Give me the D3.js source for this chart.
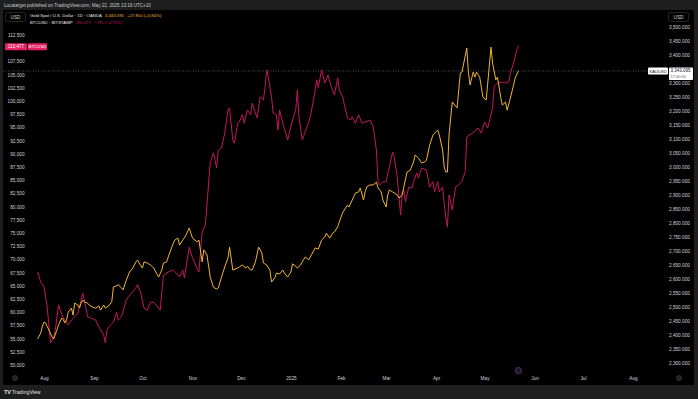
<!DOCTYPE html>
<html>
<head>
<meta charset="utf-8">
<script src="https://cdn.jsdelivr.net/npm/d3@7"></script>
<style>
  body { margin: 0; background: #1e1e1e; }
  svg { display: block; font-family: "Liberation Sans", Arial, sans-serif; }
  .axis text { fill: #d1d4dc; font-size: 4.7px; }
  .axis path { display: none; }
</style>
</head>
<body>
<div id="chart"></div>
<script>
// BTCUSD (Bitstamp) daily closes, one line per month
const btcDates = [
  "2024-07-28","2024-07-30",
  "2024-08-01","2024-08-03","2024-08-05","2024-08-07","2024-08-08","2024-08-10","2024-08-11","2024-08-13","2024-08-16","2024-08-18","2024-08-20","2024-08-22","2024-08-25","2024-08-26","2024-08-28","2024-08-30",
  "2024-09-02","2024-09-04","2024-09-07","2024-09-08","2024-09-09","2024-09-10","2024-09-13","2024-09-15","2024-09-16","2024-09-18","2024-09-21","2024-09-24","2024-09-26","2024-09-28","2024-09-30",
  "2024-10-02","2024-10-04","2024-10-06","2024-10-08","2024-10-11","2024-10-12","2024-10-14","2024-10-17","2024-10-20","2024-10-22","2024-10-24","2024-10-26","2024-10-27","2024-10-30",
  "2024-11-01","2024-11-03","2024-11-05","2024-11-07","2024-11-09","2024-11-12","2024-11-14","2024-11-16","2024-11-17","2024-11-19","2024-11-21","2024-11-23","2024-11-24","2024-11-26","2024-11-27","2024-11-29","2024-11-30",
  "2024-12-02","2024-12-03","2024-12-05","2024-12-07","2024-12-08","2024-12-11","2024-12-13","2024-12-15","2024-12-16","2024-12-17","2024-12-18","2024-12-20","2024-12-21","2024-12-23","2024-12-24","2024-12-25","2024-12-27","2024-12-30",
  "2025-01-02","2025-01-04","2025-01-05","2025-01-06","2025-01-08","2025-01-11","2025-01-13","2025-01-15","2025-01-17","2025-01-18","2025-01-20","2025-01-22","2025-01-24","2025-01-26","2025-01-28","2025-01-30","2025-01-31",
  "2025-02-02","2025-02-05","2025-02-07","2025-02-08","2025-02-10","2025-02-12","2025-02-14","2025-02-16","2025-02-19","2025-02-21","2025-02-23","2025-02-24","2025-02-25","2025-02-27",
  "2025-03-01","2025-03-03","2025-03-05","2025-03-06","2025-03-08","2025-03-09","2025-03-10","2025-03-11","2025-03-12","2025-03-13","2025-03-15","2025-03-17","2025-03-18","2025-03-20","2025-03-21","2025-03-23","2025-03-26","2025-03-28","2025-03-30","2025-03-31",
  "2025-04-02","2025-04-03","2025-04-05","2025-04-06","2025-04-07","2025-04-08","2025-04-09","2025-04-11","2025-04-13","2025-04-15","2025-04-17","2025-04-19","2025-04-20","2025-04-22","2025-04-25","2025-04-27","2025-04-29",
  "2025-05-01","2025-05-03","2025-05-04","2025-05-06","2025-05-07","2025-05-09","2025-05-12","2025-05-14","2025-05-16","2025-05-17","2025-05-19","2025-05-21","2025-05-22"
];
const btcClose = [
  67600,65700,
  64800,61000,54200,55300,56600,61400,60400,58900,57600,58500,59100,59800,63600,62300,59100,58900,
  58500,57200,55700,54200,56600,57200,58100,60000,58500,59100,62300,63600,64200,65200,63600,
  60800,60400,61900,61900,60800,60400,67000,67600,68000,67400,66700,68000,66500,72300,
  70300,68900,67600,75200,76500,88300,90200,87300,90700,91100,93900,98300,98700,92600,92000,95800,96000,
  97400,95800,98300,97400,99600,96800,100800,100200,102700,105900,104500,100800,97700,97400,94500,98300,95800,92600,
  96400,98300,102100,97000,92600,95100,97000,100200,104000,102500,105900,103400,104900,102700,101100,104400,102100,
  100800,96800,96400,97000,95800,97400,95800,96000,96400,95100,90700,84700,84100,84700,
  84700,87500,90300,89400,85400,81800,78400,82800,83100,80900,83700,83500,84700,86400,85400,87300,86900,83700,84700,82800,
  84700,82800,83700,80700,78000,76100,82200,79400,83700,84100,84800,86600,93200,93600,94300,94900,93900,
  96000,94900,96200,98700,102800,103400,103600,103400,103600,105300,107200,109700,110477
];

// XAUUSD (OANDA) daily closes, one line per month
const goldDates = [
  "2024-07-28","2024-07-30","2024-07-31",
  "2024-08-01","2024-08-02","2024-08-04","2024-08-06","2024-08-07","2024-08-09","2024-08-10","2024-08-12","2024-08-13","2024-08-14","2024-08-15","2024-08-16","2024-08-18","2024-08-19","2024-08-20","2024-08-22","2024-08-23","2024-08-24","2024-08-25","2024-08-26","2024-08-28","2024-08-29","2024-08-31",
  "2024-09-02","2024-09-04","2024-09-05","2024-09-07","2024-09-08","2024-09-10","2024-09-12","2024-09-13","2024-09-16","2024-09-18","2024-09-19","2024-09-21","2024-09-23","2024-09-25","2024-09-27","2024-09-28","2024-09-29",
  "2024-10-01","2024-10-02","2024-10-04","2024-10-06","2024-10-08","2024-10-11","2024-10-13","2024-10-14","2024-10-16","2024-10-17","2024-10-19","2024-10-21","2024-10-23","2024-10-24","2024-10-26","2024-10-28","2024-10-30",
  "2024-11-01","2024-11-04","2024-11-05","2024-11-07","2024-11-08","2024-11-10","2024-11-12","2024-11-14","2024-11-16","2024-11-17","2024-11-19","2024-11-21","2024-11-23","2024-11-24","2024-11-26","2024-11-29","2024-11-30",
  "2024-12-02","2024-12-04","2024-12-05","2024-12-07","2024-12-08","2024-12-10","2024-12-12","2024-12-14","2024-12-15","2024-12-17","2024-12-19","2024-12-20","2024-12-22","2024-12-23","2024-12-25","2024-12-27","2024-12-28","2024-12-30",
  "2025-01-01","2025-01-02","2025-01-04","2025-01-05","2025-01-07","2025-01-08","2025-01-10","2025-01-12","2025-01-14","2025-01-16","2025-01-18","2025-01-20","2025-01-22","2025-01-23","2025-01-25","2025-01-27","2025-01-28","2025-01-30","2025-01-31",
  "2025-02-02","2025-02-05","2025-02-06","2025-02-08","2025-02-10","2025-02-12","2025-02-13","2025-02-15","2025-02-16","2025-02-17","2025-02-19","2025-02-21","2025-02-23","2025-02-24","2025-02-26","2025-02-27",
  "2025-03-01","2025-03-02","2025-03-03","2025-03-05","2025-03-08","2025-03-09","2025-03-11","2025-03-12","2025-03-14","2025-03-16","2025-03-18","2025-03-19","2025-03-21","2025-03-23","2025-03-25","2025-03-26","2025-03-28","2025-03-30",
  "2025-04-02","2025-04-03","2025-04-05","2025-04-06","2025-04-07","2025-04-08","2025-04-09","2025-04-11","2025-04-14","2025-04-16","2025-04-17","2025-04-20","2025-04-21","2025-04-22","2025-04-24","2025-04-25","2025-04-26","2025-04-28","2025-04-30",
  "2025-05-02","2025-05-03","2025-05-05","2025-05-06","2025-05-08","2025-05-09","2025-05-11","2025-05-12","2025-05-14","2025-05-15","2025-05-17","2025-05-19","2025-05-20","2025-05-22"
];
const goldClose = [
  2386,2407,2432,
  2446,2443,2418,2393,2386,2418,2436,2461,2454,2443,2454,2482,2496,2471,2514,2507,2496,2514,2525,2518,2514,2507,2500,
  2496,2504,2489,2507,2496,2504,2518,2571,2579,2568,2561,2596,2625,2639,2661,2668,2657,
  2639,2661,2657,2650,2639,2607,2632,2657,2661,2679,2711,2739,2746,2721,2739,2757,2782,
  2746,2732,2739,2661,2704,2686,2607,2571,2564,2568,2607,2643,2675,2714,2632,2639,2643,
  2650,2639,2646,2632,2632,2661,2714,2693,2657,2650,2632,2589,2604,2621,2618,2632,2621,2607,
  2625,2654,2646,2639,2650,2661,2679,2668,2689,2711,2707,2739,2750,2764,2746,2764,2768,2786,2804,
  2836,2864,2857,2882,2907,2911,2925,2882,2911,2929,2936,2936,2946,2925,2911,2882,
  2857,2900,2918,2911,2900,2889,2900,2929,2982,2989,3018,3043,3032,3014,3018,3025,3078,3114,
  3132,3114,3061,3000,2982,2982,3114,3232,3211,3336,3339,3425,3339,3293,3339,3321,3339,3321,3250,
  3239,3300,3428,3371,3311,3321,3250,3221,3232,3203,3246,3293,3318,3343.095
];

const monthLabels = ["Aug","Sep","Oct","Nov","Dec","2025","Feb","Mar","Apr","May","Jun","Jul","Aug"];
// ticks hidden behind the last-value tags are left out
const btcTicks = d3.range(50000, 112501, 2500).filter(v => v !== 110000);
const goldTicks = d3.range(2300, 3501, 50).filter(v => v !== 3350);

const width = 698, height = 399;
const parse = d3.timeParse("%Y-%m-%d");
const btc = btcDates.map((d, i) => ({ date: parse(d), value: btcClose[i] }));
const gold = goldDates.map((d, i) => ({ date: parse(d), value: goldClose[i] }));

const x = d3.scaleTime().domain([parse("2024-08-01"), parse("2025-08-01")]).range([44, 633]);
const yBtc = d3.scaleLinear().domain([50000, 112500]).range([365, 35]);
const yGold = d3.scaleLinear().domain([2300, 3500]).range([363, 27]);

const svg = d3.select("#chart").append("svg").attr("width", width).attr("height", height);

// frame + black pane
svg.append("rect").attr("width", width).attr("height", height).attr("fill", "#1e1e1e");
svg.append("rect").attr("x", 3).attr("y", 10).attr("width", 691).attr("height", 375).attr("fill", "#000");

svg.append("text").attr("x", 4).attr("y", 6.5).attr("fill", "#c8cbd2").attr("font-size", 4.6)
  .text("Lucatarget published on TradingView.com, May 22, 2025 13:19 UTC+10");

// axes
svg.append("g").attr("class", "axis").attr("transform", "translate(24.5,0)")
  .call(d3.axisLeft(yBtc).tickValues(btcTicks).tickSize(0).tickPadding(0).tickFormat(d3.format(",")));
svg.append("g").attr("class", "axis").attr("transform", "translate(669,0)")
  .call(d3.axisRight(yGold).tickValues(goldTicks).tickSize(0).tickPadding(0).tickFormat(d3.format(",.3f")));
svg.append("g").attr("class", "axis").attr("transform", "translate(0,376.5)")
  .call(d3.axisBottom(x).ticks(d3.timeMonth.every(1)).tickSize(0).tickPadding(0).tickFormat((d, i) => monthLabels[i]));

// last price dotted line of gold
svg.append("line").attr("x1", 3).attr("x2", 648).attr("y1", yGold(3343.095)).attr("y2", yGold(3343.095))
  .attr("stroke", "#8a8a8a").attr("stroke-width", 0.6).attr("stroke-dasharray", "1,1.5");

const line = yScale => d3.line().x(d => x(d.date)).y(d => yScale(d.value));
svg.append("path").datum(btc).attr("d", line(yBtc)).attr("fill", "none")
  .attr("stroke", "#c2185b").attr("stroke-width", 1).attr("stroke-linejoin", "round");
svg.append("path").datum(gold).attr("d", line(yGold)).attr("fill", "none")
  .attr("stroke", "#f2b432").attr("stroke-width", 1).attr("stroke-linejoin", "round");

// USD boxes
[5.5, 668.5].forEach(bx => {
  svg.append("rect").attr("x", bx).attr("y", 12.5).attr("width", 20).attr("height", 9).attr("rx", 1.5)
    .attr("fill", "#000").attr("stroke", "#3a3a3a").attr("stroke-width", 0.6);
  svg.append("text").attr("x", bx + 10).attr("y", 18.6).attr("text-anchor", "middle")
    .attr("fill", "#d1d4dc").attr("font-size", 4.7).text("USD");
});

// legend lines
const legend = svg.append("g").attr("font-size", 4.3);
const l1 = legend.append("text").attr("x", 30).attr("y", 17.3);
l1.append("tspan").attr("fill", "#e6e6e6").text("Gold Spot / U.S. Dollar · 1D · OANDA");
l1.append("tspan").attr("dx", 3).attr("fill", "#f2b432").text("3,343.095");
l1.append("tspan").attr("dx", 3).attr("fill", "#f2b432").text("+27.850 (+0.84%)");
const l2 = legend.append("text").attr("x", 30).attr("y", 24);
l2.append("tspan").attr("fill", "#e6e6e6").text("BTCUSD · BITSTAMP");
l2.append("tspan").attr("dx", 3).attr("fill", "#c2185b").text("110,477");
l2.append("tspan").attr("dx", 3).attr("fill", "#c2185b").text("\u2212795 (\u22120.72%)");

// BTC last value tags
const by = yBtc(btcClose[btcClose.length - 1]);
svg.append("rect").attr("x", 5).attr("y", by - 2.5).attr("width", 22).attr("height", 7).attr("rx", 1).attr("fill", "#e91e63");
svg.append("text").attr("x", 16).attr("y", by + 2.6).attr("text-anchor", "middle").attr("fill", "#fff").attr("font-size", 4.6).text("110,477");
svg.append("rect").attr("x", 28).attr("y", by - 2.5).attr("width", 19).attr("height", 7).attr("rx", 1).attr("fill", "#e91e63");
svg.append("text").attr("x", 37.5).attr("y", by + 2.6).attr("text-anchor", "middle").attr("fill", "#fff").attr("font-size", 4.4).text("BTCUSD");

// Gold last value tags
const gy = yGold(goldClose[goldClose.length - 1]);
svg.append("rect").attr("x", 648).attr("y", gy - 3.5).attr("width", 20).attr("height", 7).attr("rx", 1).attr("fill", "#fff");
svg.append("text").attr("x", 658).attr("y", gy + 1.6).attr("text-anchor", "middle").attr("fill", "#222").attr("font-size", 4.3).text("XAUUSD");
svg.append("rect").attr("x", 669).attr("y", gy - 3.5).attr("width", 24).attr("height", 12.5).attr("rx", 1).attr("fill", "#fff");
svg.append("text").attr("x", 670.5).attr("y", gy + 1.4).attr("fill", "#111").attr("font-size", 4.5).text("3,343.095");
svg.append("text").attr("x", 670.5).attr("y", gy + 7).attr("fill", "#555").attr("font-size", 4).text("17:40:05");

// little markers
svg.append("circle").attr("cx", 15).attr("cy", 378).attr("r", 2.5).attr("fill", "#222").attr("stroke", "#444").attr("stroke-width", 0.6);
svg.append("circle").attr("cx", 679).attr("cy", 378).attr("r", 2.5).attr("fill", "#222").attr("stroke", "#444").attr("stroke-width", 0.6);
svg.append("circle").attr("cx", x(parse("2025-05-22"))).attr("cy", 370.5).attr("r", 3).attr("fill", "#1d1426").attr("stroke", "#6a3a8c").attr("stroke-width", 0.8);

// TradingView footer
svg.append("text").attr("x", 4).attr("y", 394).attr("fill", "#e0e0e0").attr("font-size", 5.5).attr("font-weight", "bold").text("TV");
svg.append("text").attr("x", 12).attr("y", 394).attr("fill", "#e0e0e0").attr("font-size", 5.2).text("TradingView");
</script>
</body>
</html>
